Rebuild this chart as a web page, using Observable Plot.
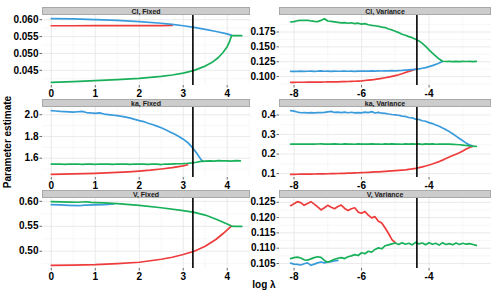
<!DOCTYPE html>
<html><head><meta charset="utf-8">
<script src="https://cdn.jsdelivr.net/npm/d3@7"></script>
<script src="https://cdn.jsdelivr.net/npm/@observablehq/plot@0.6"></script>
<style>
body{margin:0;background:#fff;}
#chart{position:relative;width:495px;height:293px;font-family:"Liberation Sans",Arial,sans-serif;overflow:hidden;background:#fff;}
.strip{position:absolute;box-sizing:border-box;background:#cccccc;border:0.6px solid #a9a9a9;font-size:7px;font-weight:bold;text-align:center;color:#1a1a1a;line-height:7px;}
.panel{position:absolute;}
.lab{position:absolute;font-size:10px;font-weight:bold;white-space:nowrap;color:#000;}
</style></head><body><div id="chart"></div>
<script>
// ---------- data ----------
const panelTitles = ["Cl, Fixed", "Cl, Variance", "ka, Fixed", "ka, Variance", "V, Fixed", "V, Variance"];
const yAxisTitle = "Parameter estimate";
const xAxisTitle = "log λ";

const fixedXTicks = [0, 1, 2, 3, 4];
const varXTicks = [-8, -6, -4];
const fixedCut = 3.22;
const varCut = -4.36;

const varX = [-8.1,-8.0,-7.9,-7.8,-7.7,-7.6,-7.5,-7.4,-7.3,-7.2,-7.1,-7.0,-6.9,-6.8,-6.7,-6.6,-6.5,-6.4,-6.3,-6.2,-6.1,-6.0,-5.9,-5.8,-5.7,-5.6,-5.5,-5.4,-5.3,-5.2,-5.1,-5.0,-4.9,-4.8,-4.7,-4.6,-4.5,-4.4,-4.3,-4.2,-4.1,-4.0,-3.9,-3.8,-3.7,-3.6,-3.5,-3.4,-3.3,-3.2,-3.1,-3.0,-2.9,-2.8,-2.7,-2.6];

// Cl, Fixed
const clFixedYTicks = [0.045, 0.050, 0.055, 0.060];
const clFixedRedX = [0, 0.5, 1, 1.5, 2, 2.3, 2.5, 2.75];
const clFixedRedY = [0.05820, 0.05821, 0.05822, 0.05822, 0.05823, 0.05824, 0.05826, 0.05830];
const clFixedBlueX = [0, 0.5, 1, 1.5, 2, 2.5, 2.75, 3, 3.25, 3.5, 3.75, 4, 4.1];
const clFixedBlueY = [0.06030, 0.06022, 0.06005, 0.05978, 0.05942, 0.05895, 0.05860, 0.05820, 0.05770, 0.05715, 0.05650, 0.05580, 0.05535];
const clFixedGreenX = [0, 0.5, 1, 1.5, 2, 2.5, 2.75, 3, 3.25, 3.5, 3.65, 3.8, 3.9, 4.0, 4.05, 4.1, 4.15, 4.33];
const clFixedGreenY = [0.04145, 0.04168, 0.04194, 0.04225, 0.04263, 0.04320, 0.04362, 0.04418, 0.04500, 0.04625, 0.04730, 0.04880, 0.05020, 0.05200, 0.05340, 0.05530, 0.05530, 0.05528];

// Cl, Variance (on varX)
const clVarYTicks = [0.100, 0.125, 0.150, 0.175];
const clVarRedY = [0.0904,0.0904,0.0905,0.0905,0.0905,0.0906,0.0906,0.0907,0.0907,0.0908,0.0909,0.0910,0.0911,0.0912,0.0913,0.0915,0.0916,0.0918,0.0920,0.0922,0.0925,0.0928,0.0935,0.0940,0.0946,0.0953,0.0962,0.0971,0.0981,0.0992,0.1004,0.1017,0.1031,0.1049,0.1069,0.1088,0.1105,0.1123];
const clVarBlueY = [0.1088,0.1090,0.1089,0.1091,0.1088,0.1090,0.1092,0.1089,0.1091,0.1096,0.1090,0.1092,0.1089,0.1093,0.1090,0.1091,0.1094,0.1090,0.1092,0.1089,0.1093,0.1091,0.1094,0.1092,0.1095,0.1093,0.1096,0.1094,0.1097,0.1096,0.1099,0.1098,0.1102,0.1104,0.1108,0.1112,0.1117,0.1123,0.1130,0.1140,0.1152,0.1167,0.1185,0.1205,0.1228,0.1255];
const clVarGreenY = [0.1918,0.1925,0.1940,0.1946,0.1944,0.1948,0.1938,0.1930,0.1924,0.1945,0.1974,0.1935,0.1928,0.1920,0.1912,0.1903,0.1908,0.1897,0.1905,0.1890,0.1898,0.1882,0.1890,0.1872,0.1862,0.1855,0.1846,0.1832,0.1825,0.1800,0.1785,0.1762,0.1740,0.1712,0.1695,0.1672,0.1655,0.1628,0.1600,0.1558,0.1508,0.1450,0.1395,0.1345,0.1295,0.1258,0.1254,0.1257,0.1253,0.1256,0.1252,0.1255,0.1254,0.1256,0.1253,0.1255];

// ka, Fixed
const kaFixedYTicks = [1.6, 1.8, 2.0];
const kaFixedRedX = [0, 0.25, 0.5, 0.75, 1, 1.25, 1.5, 1.75, 2, 2.25, 2.5, 2.75, 3, 3.1];
const kaFixedRedY = [1.452, 1.454, 1.456, 1.458, 1.461, 1.465, 1.469, 1.475, 1.482, 1.490, 1.501, 1.514, 1.530, 1.540];
const kaFixedBlueX = [0,0.1,0.2,0.3,0.4,0.5,0.6,0.7,0.8,0.9,1.0,1.1,1.2,1.3,1.4,1.5,1.6,1.7,1.8,1.9,2.0,2.1,2.2,2.3,2.4,2.5,2.6,2.7,2.8,2.9,3.0,3.1,3.2,3.3,3.4,3.45];
const kaFixedBlueY = [2.037,2.034,2.030,2.028,2.026,2.023,2.027,2.031,2.020,2.016,2.013,2.017,2.006,2.001,1.996,1.992,1.985,1.978,1.969,1.957,1.946,1.937,1.922,1.910,1.895,1.880,1.862,1.842,1.822,1.800,1.775,1.745,1.702,1.650,1.590,1.572];
const kaFixedGreenX = [0,0.1,0.2,0.3,0.4,0.5,0.6,0.7,0.8,0.9,1.0,1.1,1.2,1.3,1.4,1.5,1.6,1.7,1.8,1.9,2.0,2.1,2.2,2.3,2.4,2.5,2.6,2.7,2.8,2.9,3.0,3.1,3.2,3.3,3.4,3.5,3.6,3.7,3.8,3.9,4.0,4.1,4.2,4.3];
const kaFixedGreenY = [1.546,1.545,1.547,1.544,1.546,1.545,1.547,1.544,1.546,1.545,1.543,1.547,1.545,1.546,1.544,1.547,1.545,1.546,1.544,1.547,1.545,1.546,1.543,1.547,1.545,1.542,1.547,1.546,1.548,1.549,1.551,1.554,1.558,1.563,1.571,1.574,1.576,1.574,1.577,1.575,1.576,1.574,1.577,1.575];

// ka, Variance (on varX)
const kaVarYTicks = [0.1, 0.2, 0.3, 0.4];
const kaVarRedY = [0.0964,0.0966,0.0968,0.0970,0.0972,0.0974,0.0977,0.0980,0.0983,0.0986,0.0990,0.0994,0.0998,0.1002,0.1007,0.1012,0.1017,0.1023,0.1029,0.1036,0.1043,0.1050,0.1058,0.1066,0.1075,0.1084,0.1094,0.1104,0.1114,0.1125,0.1136,0.1148,0.1161,0.1175,0.1190,0.1214,0.1240,0.1270,0.1305,0.1345,0.1390,0.1440,0.1495,0.1555,0.1615,0.1690,0.1770,0.1850,0.1925,0.1995,0.2065,0.2160,0.2260,0.2340,0.2400];
const kaVarBlueY = [0.4220,0.4195,0.4150,0.4115,0.4125,0.4105,0.4118,0.4110,0.4125,0.4120,0.4135,0.4160,0.4185,0.4130,0.4150,0.4120,0.4145,0.4115,0.4140,0.4105,0.4125,0.4110,0.4150,0.4120,0.4170,0.4100,0.4130,0.4090,0.4080,0.4050,0.4025,0.4010,0.3985,0.3940,0.3925,0.3870,0.3855,0.3790,0.3770,0.3705,0.3680,0.3610,0.3560,0.3490,0.3420,0.3330,0.3250,0.3150,0.3040,0.2920,0.2800,0.2680,0.2560,0.2470,0.2400];
const kaVarGreenY = [0.2510,0.2505,0.2515,0.2508,0.2512,0.2506,0.2514,0.2509,0.2516,0.2520,0.2508,0.2513,0.2505,0.2518,0.2510,0.2503,0.2517,0.2507,0.2514,0.2502,0.2519,0.2508,0.2512,0.2504,0.2520,0.2509,0.2515,0.2503,0.2518,0.2507,0.2521,0.2505,0.2516,0.2502,0.2519,0.2506,0.2522,0.2504,0.2517,0.2500,0.2523,0.2507,0.2519,0.2502,0.2515,0.2508,0.2512,0.2505,0.2498,0.2490,0.2478,0.2460,0.2440,0.2418,0.2400,0.2392];

// V, Fixed
const vFixedYTicks = [0.50, 0.55, 0.60];
const vFixedRedX = [0, 0.5, 1, 1.5, 2, 2.5, 2.75, 3, 3.25, 3.5, 3.75, 3.9, 4.0, 4.1];
const vFixedRedY = [0.4718, 0.4723, 0.4732, 0.4752, 0.4779, 0.4840, 0.4880, 0.4935, 0.5000, 0.5100, 0.5240, 0.5350, 0.5430, 0.5510];
const vFixedBlueX = [0, 0.2, 0.4, 0.6, 0.7, 0.8, 1.0, 1.2, 1.42];
const vFixedBlueY = [0.5933, 0.5928, 0.5920, 0.5913, 0.5918, 0.5926, 0.5930, 0.5936, 0.5948];
const vFixedGreenX = [0, 0.2, 0.4, 0.6, 0.8, 0.9, 1.0, 1.2, 1.5, 2.0, 2.5, 3.0, 3.25, 3.5, 3.75, 4.0, 4.1, 4.15, 4.33];
const vFixedGreenY = [0.5993, 0.5990, 0.5985, 0.5982, 0.5992, 0.5978, 0.5975, 0.5968, 0.5953, 0.5920, 0.5872, 0.5812, 0.5779, 0.5725, 0.5640, 0.5545, 0.5505, 0.5500, 0.5498];

// V, Variance (on varX)
const vVarYTicks = [0.105, 0.110, 0.115, 0.120, 0.125];
const vVarRedY = [0.1239,0.1245,0.1252,0.1249,0.1240,0.1246,0.1252,0.1244,0.1235,0.1225,0.1232,0.1240,0.1234,0.1229,0.1236,0.1241,0.1230,0.1223,0.1229,0.1232,0.1218,0.1214,0.1220,0.1208,0.1199,0.1203,0.1188,0.1182,0.1166,0.1148,0.1128,0.1118];
const vVarBlueY = [0.1051,0.1048,0.1047,0.1045,0.1049,0.1052,0.1044,0.1048,0.1052,0.1055,0.1052,0.1054,0.1056,0.1058,0.1060];
const vVarGreenY = [0.1066,0.1069,0.1071,0.1068,0.1062,0.1061,0.1065,0.1069,0.1072,0.1070,0.1060,0.1054,0.1059,0.1064,0.1067,0.1069,0.1066,0.1072,0.1075,0.1079,0.1076,0.1085,0.1082,0.1090,0.1087,0.1096,0.1101,0.1098,0.1108,0.1111,0.1114,0.1117,0.1112,0.1118,0.1113,0.1116,0.1111,0.1119,0.1114,0.1117,0.1111,0.1118,0.1113,0.1116,0.1110,0.1118,0.1112,0.1115,0.1111,0.1117,0.1112,0.1116,0.1113,0.1115,0.1112,0.1109];

// ---------- styling ----------
const RED = "#EE3B3B", BLUE = "#3A9BDC", GREEN = "#19B05A";
const stripTops = [7, 99, 190];
const stripH = 8;
const panelH = 70;
const colLeft = [0, 245];
const colMarginLeft = [42, 34];
const colWidth = [250, 246];
const fixedDomain = [-0.2, 4.53];
const varDomain = [-8.43, -2.15];

const panels = [
  {title: panelTitles[0], row: 0, col: 0, yTicks: clFixedYTicks, fmt: ".3f",
   series: [[clFixedRedX, clFixedRedY, RED], [clFixedBlueX, clFixedBlueY, BLUE], [clFixedGreenX, clFixedGreenY, GREEN]]},
  {title: panelTitles[1], row: 0, col: 1, yTicks: clVarYTicks, fmt: ".3f",
   series: [[varX, clVarRedY, RED], [varX, clVarBlueY, BLUE], [varX, clVarGreenY, GREEN]]},
  {title: panelTitles[2], row: 1, col: 0, yTicks: kaFixedYTicks, fmt: ".1f",
   series: [[kaFixedRedX, kaFixedRedY, RED], [kaFixedBlueX, kaFixedBlueY, BLUE], [kaFixedGreenX, kaFixedGreenY, GREEN]]},
  {title: panelTitles[3], row: 1, col: 1, yTicks: kaVarYTicks, fmt: ".1f",
   series: [[varX, kaVarRedY, RED], [varX, kaVarBlueY, BLUE], [varX, kaVarGreenY, GREEN]]},
  {title: panelTitles[4], row: 2, col: 0, yTicks: vFixedYTicks, fmt: ".2f",
   series: [[vFixedRedX, vFixedRedY, RED], [vFixedBlueX, vFixedBlueY, BLUE], [vFixedGreenX, vFixedGreenY, GREEN]]},
  {title: panelTitles[5], row: 2, col: 1, yTicks: vVarYTicks, fmt: ".3f",
   series: [[varX, vVarRedY, RED], [varX, vVarBlueY, BLUE], [varX, vVarGreenY, GREEN]]}
];

function minorTicks(ticks, domain) {
  const step = ticks[1] - ticks[0];
  const out = [];
  for (let i = -1; i < ticks.length; i++) {
    const v = ticks[0] + (i + 0.5) * step;
    if (v > Math.min(...domain) && v < Math.max(...domain)) out.push(v);
  }
  return out;
}

const chart = document.getElementById("chart");

for (const p of panels) {
  const isFixed = p.col === 0;
  const xDomain = isFixed ? fixedDomain : varDomain;
  const xTicks = isFixed ? fixedXTicks : varXTicks;
  const cut = isFixed ? fixedCut : varCut;
  const allY = p.series.flatMap(s => s[1]);
  const [lo, hi] = d3.extent(allY);
  const pad = (hi - lo) * 0.05;
  const yDomain = [lo - pad, hi + pad];
  const fmt = d3.format(p.fmt);

  const lineMarks = p.series.map(([xs, ys, color]) =>
    Plot.line(ys.map((y, i) => ({x: xs[i], y})), {x: "x", y: "y", stroke: color, strokeWidth: 1.7, curve: "linear"})
  );

  const svg = Plot.plot({
    width: colWidth[p.col],
    height: panelH + 18,
    marginTop: 0,
    marginBottom: 18,
    marginLeft: colMarginLeft[p.col],
    marginRight: 0,
    x: {domain: xDomain},
    y: {domain: yDomain},
    style: {fontFamily: '"Liberation Sans", Arial, sans-serif', fontSize: "10px", fontWeight: "bold", color: "#000", background: "transparent", overflow: "visible"},
    marks: [
      Plot.gridX(minorTicks(xTicks, xDomain), {stroke: "#f1f1f1", strokeOpacity: 1, strokeWidth: 0.6}),
      Plot.gridY(minorTicks(p.yTicks, yDomain), {stroke: "#f1f1f1", strokeOpacity: 1, strokeWidth: 0.6}),
      Plot.gridX(xTicks, {stroke: "#e4e4e4", strokeOpacity: 1, strokeWidth: 0.8}),
      Plot.gridY(p.yTicks, {stroke: "#e4e4e4", strokeOpacity: 1, strokeWidth: 0.8}),
      Plot.axisX(xTicks, {tickSize: 2.5, tickPadding: 2, label: null, tickFormat: d => String(d), stroke: "#666"}),
      Plot.axisY(p.yTicks, {tickSize: 2.5, tickPadding: 1.5, label: null, tickFormat: fmt, stroke: "#666"}),
      ...lineMarks,
      Plot.ruleX([cut], {stroke: "#000", strokeWidth: 1.6})
    ]
  });
  svg.classList.add("panel");
  svg.style.left = colLeft[p.col] + "px";
  svg.style.top = (stripTops[p.row] + stripH) + "px";
  svg.style.position = "absolute";
  chart.appendChild(svg);

  const strip = document.createElement("div");
  strip.className = "strip";
  strip.textContent = p.title;
  strip.style.left = (colLeft[p.col] + colMarginLeft[p.col]) + "px";
  strip.style.width = (colWidth[p.col] - colMarginLeft[p.col]) + "px";
  strip.style.top = stripTops[p.row] + "px";
  strip.style.height = stripH + "px";
  chart.appendChild(strip);
}

const yl = document.createElement("div");
yl.className = "lab";
yl.textContent = yAxisTitle;
yl.style.left = "7px";
yl.style.top = "142px";
yl.style.transform = "translate(-50%,-50%) rotate(-90deg)";
chart.appendChild(yl);

const xl = document.createElement("div");
xl.className = "lab";
xl.textContent = xAxisTitle;
xl.style.left = "264px";
xl.style.top = "284px";
xl.style.transform = "translate(-50%,-50%)";
chart.appendChild(xl);
</script></body></html>
